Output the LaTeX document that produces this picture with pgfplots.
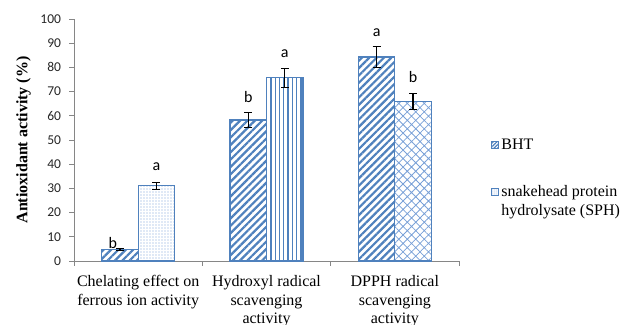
\documentclass[border=0pt]{standalone}
\usepackage{fontspec}
\setmainfont{Liberation Serif}
\newfontfamily\calibri{Carlito}
\usepackage{pgfplots}
\pgfplotsset{compat=1.18}
\usetikzlibrary{patterns.meta}
\definecolor{bblue}{RGB}{79,129,189}
\definecolor{lblue}{RGB}{120,160,215}
\definecolor{axgray}{RGB}{134,134,134}
\begin{document}
\begin{tikzpicture}
\useasboundingbox (0,0) rectangle (626pt,324pt);
\begin{axis}[
  at={(74pt,63pt)}, anchor=south west,
  scale only axis, width=385pt, height=242pt,
  xmin=-0.5, xmax=2.5, ymin=0, ymax=100,
  axis lines*=left,
  axis line style={axgray, line width=0.8pt},
  tick align=outside,
  major tick length=4.5pt,
  tick style={axgray, line width=0.8pt},
  ytick={0,10,...,100},
  yticklabel style={font=\calibri\fontsize{13.5}{14}\selectfont, text=black!85, xshift=-5pt},
  /pgf/number format/assume math mode=true,
  xtick={-0.5,0.5,1.5,2.5}, xticklabels={},
  extra x ticks={0,1,2},
  extra x tick labels={Chelating effect on\\ferrous ion activity, Hydroxyl radical\\scavenging\\activity, DPPH radical\\scavenging\\activity},
  extra x tick style={major tick length=0pt, tick label style={align=center, font=\fontsize{16}{18.5}\selectfont, yshift=-11pt}},
  ylabel={\textbf{Antioxidant activity (\%)}},
  ylabel style={font=\fontsize{16}{18}\selectfont, at={(axis description cs:-0.131,0.5)}, anchor=center},
  legend image code/.code={\draw[#1] (0pt,-3.5pt) rectangle (7pt,3.5pt);},
  legend style={at={(1.083,0.515)}, anchor=north west, draw=none, fill=none,
    font=\fontsize{16}{18.5}\selectfont, cells={anchor=west, align=left}, row sep=31pt,
    inner sep=0pt},
  error bars/error bar style={black, line width=1.2pt},
  error bars/error mark options={rotate=90, mark size=4pt, line width=1.2pt, black},
]
% BHT (category index - 0.1422)
\addplot[ybar, forget plot, bar width=36.5pt, bar shift=0pt, draw=bblue, line width=1.2pt,
  pattern={Lines[angle=45,distance=5.2pt,line width=2.2pt]}, pattern color=bblue,
  error bars/.cd, y dir=both, y explicit]
  coordinates {(-0.1422,4.8) +- (0,0.4) (0.8578,58.3) +- (0,3.0) (1.8578,84.3) +- (0,4.3)};
% SPH chelating
\addplot[ybar, forget plot, bar width=36.5pt, bar shift=0pt, draw=bblue, line width=1.2pt,
  pattern={Dots[distance=3pt, radius=0.6pt]}, pattern color=lblue,
  error bars/.cd, y dir=both, y explicit]
  coordinates {(0.1422,31.1) +- (0,1.5)};
% SPH hydroxyl
\addplot[ybar, forget plot, bar width=36.5pt, bar shift=0pt, draw=bblue, line width=1.2pt,
  pattern={Lines[angle=90,distance=4.3pt,line width=1.3pt]}, pattern color=bblue,
  error bars/.cd, y dir=both, y explicit]
  coordinates {(1.1422,75.7) +- (0,3.9)};
% SPH DPPH
\addplot[ybar, forget plot, bar width=36.5pt, bar shift=0pt, draw=bblue, line width=1.2pt,
  pattern={Hatch[angle=45,distance=6pt,line width=0.8pt]}, pattern color=lblue,
  error bars/.cd, y dir=both, y explicit]
  coordinates {(2.1422,66.0) +- (0,3.3)};
\addlegendimage{draw=bblue, line width=0.8pt, pattern={Lines[angle=45,distance=2.5pt,line width=1.2pt]}, pattern color=bblue}
\addlegendentry{BHT}
\addlegendimage{legend image code/.code={\draw[draw=bblue, line width=0.8pt, pattern={Dots[distance=2pt, radius=0.5pt]}, pattern color=lblue] (0pt,5.75pt) rectangle (7pt,12.75pt);}}
\addlegendentry{snakehead protein\\hydrolysate (SPH)}
% significance letters
\begin{scope}[every node/.style={font=\calibri\fontsize{16}{16}\selectfont}]
\node at (axis cs:-0.197,7.6) {b};
\node at (axis cs:0.1422,38.8) {a};
\node at (axis cs:0.8578,67.8) {b};
\node at (axis cs:1.1422,85.5) {a};
\node at (axis cs:1.8578,94.5) {a};
\node at (axis cs:2.1422,76.0) {b};
\end{scope}
\end{axis}
\end{tikzpicture}
\end{document}
